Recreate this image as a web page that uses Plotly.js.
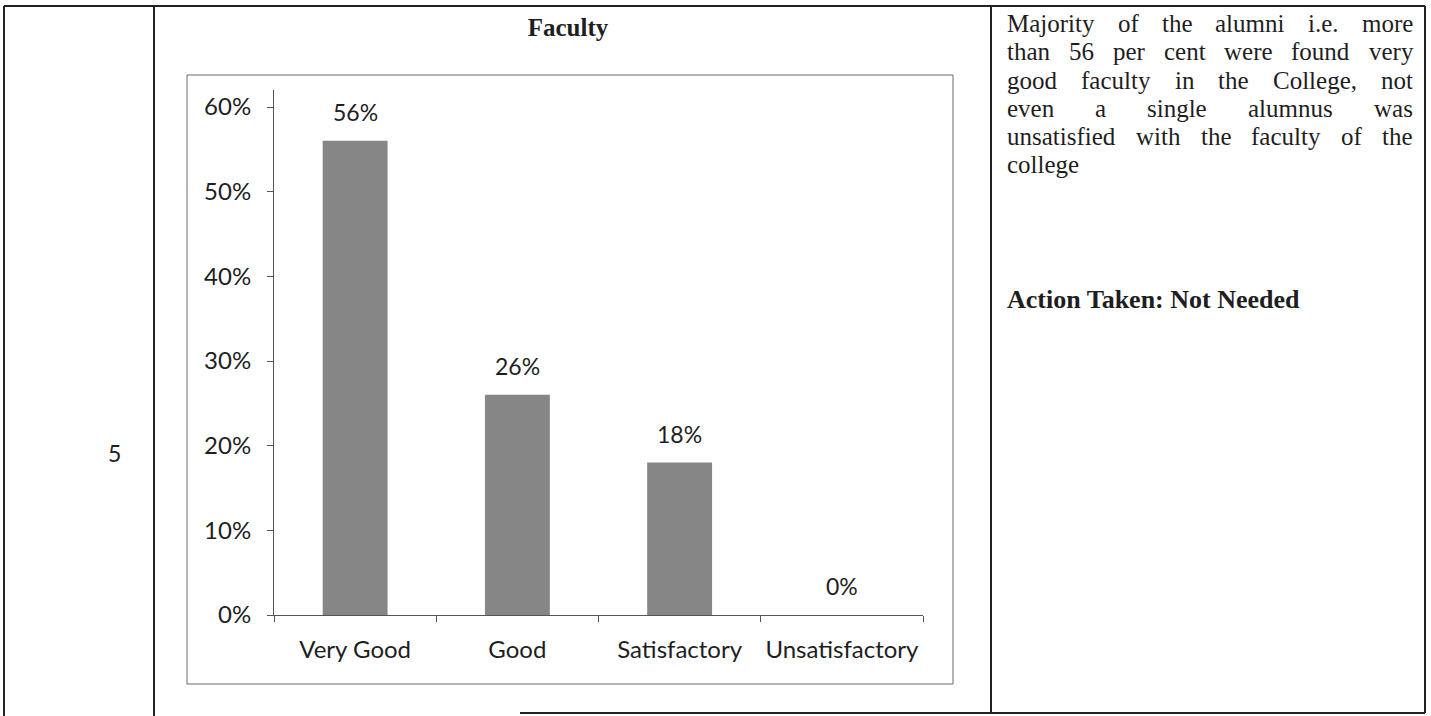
<!DOCTYPE html>
<html>
<head>
<meta charset="utf-8">
<script src="https://cdn.plot.ly/plotly-3.0.1.min.js"></script>
<style>
  html, body { margin: 0; padding: 0; background: #ffffff; }
  #chart { width: 1431px; height: 716px; }
</style>
</head>
<body>
<div id="chart"></div>
<script>
// ---------- data ----------
const categories = ['Very Good', 'Good', 'Satisfactory', 'Unsatisfactory'];
const shares = [0.56, 0.26, 0.18, 0.00];
const valueLabels = ['56%', '26%', '18%', '0%'];
const yTickValues = [0, 0.1, 0.2, 0.3, 0.4, 0.5, 0.6];
const yTickLabels = ['0%', '10%', '20%', '30%', '40%', '50%', '60%'];
const chartTitle = 'Faculty';
const rowNumber = '5';
const commentLines = [
  'Majority of the alumni i.e. more',
  'than 56 per cent were found very',
  'good faculty in the College, not',
  'even a single alumnus was',
  'unsatisfied with the faculty of the',
  'college'
];
const actionText = 'Action Taken: Not Needed';

// ---------- layout helpers (pixel -> paper) ----------
const W = 1431, H = 716;
const px = x => x / W;
const py = y => 1 - y / H;

const chartFont = 'Lato, "Open Sans", sans-serif';
const serifFont = '"Liberation Serif", "Times New Roman", serif';
const ink = '#1e1e1e';

// plot area geometry
const axisLeft = 274, axisRight = 923, axisBottom = 615, axisTop = 90;
const pxPerUnit = 508 / 0.6;
const yMax = (axisBottom - axisTop) / pxPerUnit;

// ---------- shapes: table grid and chart frame ----------
const lineStyle = { color: '#222222', width: 2 };
const shapes = [
  { type: 'line', xref: 'paper', yref: 'paper', x0: px(4), x1: px(1425), y0: py(6), y1: py(6), line: lineStyle },
  { type: 'line', xref: 'paper', yref: 'paper', x0: px(4), x1: px(4), y0: py(6), y1: py(716), line: lineStyle },
  { type: 'line', xref: 'paper', yref: 'paper', x0: px(154), x1: px(154), y0: py(6), y1: py(716), line: lineStyle },
  { type: 'line', xref: 'paper', yref: 'paper', x0: px(991), x1: px(991), y0: py(6), y1: py(713), line: lineStyle },
  { type: 'line', xref: 'paper', yref: 'paper', x0: px(1425), x1: px(1425), y0: py(6), y1: py(713), line: lineStyle },
  { type: 'line', xref: 'paper', yref: 'paper', x0: px(520), x1: px(1425), y0: py(713), y1: py(713), line: lineStyle },
  { type: 'rect', xref: 'paper', yref: 'paper', x0: px(187), x1: px(953), y0: py(75), y1: py(684),
    line: { color: '#6a6a6a', width: 1 }, fillcolor: 'rgba(0,0,0,0)' }
];

// ---------- annotations ----------
const annotations = [];

// data labels above bars
categories.forEach((c, i) => {
  annotations.push({
    x: c, y: shares[i], xref: 'x', yref: 'y',
    text: valueLabels[i], showarrow: false,
    xanchor: 'center', yanchor: 'bottom', yshift: 13,
    font: { family: chartFont, size: 23, color: ink }
  });
});

// row number
annotations.push({
  x: px(115), y: py(453), xref: 'paper', yref: 'paper',
  text: rowNumber, showarrow: false, xanchor: 'center', yanchor: 'middle',
  font: { family: chartFont, size: 23, color: ink }
});

// justified comment text, measured with canvas
const textLeft = 1006, textRight = 1412, firstLineY = 24, lineGap = 28;
const commentSize = 25;
const ctx = document.createElement('canvas').getContext('2d');
ctx.font = commentSize + 'px "Liberation Serif"';
commentLines.forEach((line, li) => {
  const yPix = firstLineY + li * lineGap;
  const words = line.split(' ');
  const isLast = li === commentLines.length - 1;
  if (isLast || words.length === 1) {
    annotations.push({
      x: px(textLeft), y: py(yPix), xref: 'paper', yref: 'paper',
      text: line, showarrow: false, xanchor: 'left', yanchor: 'middle', borderpad: 0,
      font: { family: serifFont, size: commentSize, color: ink }
    });
    return;
  }
  const widths = words.map(w => ctx.measureText(w).width);
  const total = widths.reduce((a, b) => a + b, 0);
  const gap = (textRight - textLeft - total) / (words.length - 1);
  let xCur = textLeft;
  words.forEach((w, wi) => {
    annotations.push({
      x: px(xCur), y: py(yPix), xref: 'paper', yref: 'paper',
      text: w, showarrow: false, xanchor: 'left', yanchor: 'middle', borderpad: 0,
      font: { family: serifFont, size: commentSize, color: ink }
    });
    xCur += widths[wi] + gap;
  });
});

// action line
annotations.push({
  x: px(textLeft), y: py(300), xref: 'paper', yref: 'paper',
  text: '<b>' + actionText + '</b>', showarrow: false, xanchor: 'left', yanchor: 'middle', borderpad: 0,
  font: { family: serifFont, size: 26, color: ink }
});

// ---------- trace ----------
const trace = {
  type: 'bar',
  x: categories,
  y: shares,
  width: 0.4,
  marker: { color: '#868686', line: { width: 0 } },
  hoverinfo: 'skip',
  showlegend: false
};

const layout = {
  width: W, height: H,
  margin: { l: 0, r: 0, t: 0, b: 0 },
  paper_bgcolor: '#ffffff',
  plot_bgcolor: '#ffffff',
  showlegend: false,
  title: {
    text: '<b>' + chartTitle + '</b>',
    x: px(568), y: py(27), xref: 'paper', yref: 'paper',
    xanchor: 'center', yanchor: 'middle',
    font: { family: serifFont, size: 25, color: ink }
  },
  xaxis: {
    domain: [px(axisLeft), px(axisRight)],
    type: 'category',
    range: [-0.5, 3.5],
    tickson: 'boundaries',
    tickangle: 0,
    ticks: 'outside', ticklen: 6, tickcolor: '#555555', tickwidth: 1,
    showline: true, linecolor: '#555555', linewidth: 1,
    showgrid: false, zeroline: false,
    ticklabelstandoff: 13,
    tickfont: { family: chartFont, size: 24, color: ink },
    fixedrange: true
  },
  yaxis: {
    domain: [py(axisBottom), py(axisTop)],
    range: [0, yMax],
    tickmode: 'array',
    tickvals: yTickValues,
    ticktext: yTickLabels,
    ticks: 'outside', ticklen: 6, tickcolor: '#555555', tickwidth: 1,
    showline: true, linecolor: '#555555', linewidth: 1,
    showgrid: false, zeroline: false,
    ticklabelstandoff: 11,
    tickfont: { family: chartFont, size: 24, color: ink },
    fixedrange: true
  },
  shapes: shapes,
  annotations: annotations,
  bargap: 0.6
};

Plotly.newPlot('chart', [trace], layout, { displayModeBar: false, staticPlot: true });
</script>
</body>
</html>
